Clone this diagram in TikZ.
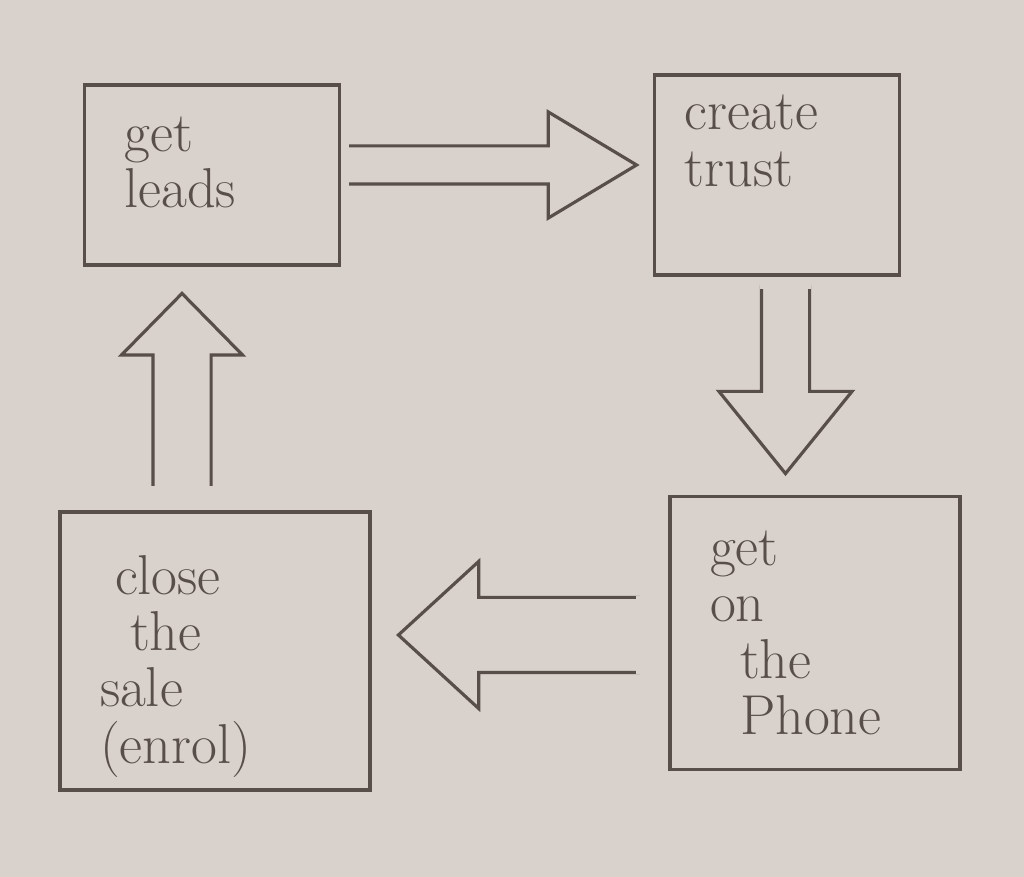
\documentclass[tikz,border=0pt]{standalone}
\usepackage{tikz}
\usetikzlibrary{shapes, arrows, positioning}
\definecolor{paper}{RGB}{216,209,204}
\definecolor{ink}{RGB}{88,78,74}

\begin{document}
\begin{tikzpicture}[line width=0.9pt,draw=ink,text=ink,font=\fontsize{16}{16}\selectfont]
	\tikzset{box/.style={draw=ink,rectangle,align=left,inner ysep=0pt}}
	\tikzset{blockarrow/.style={draw=ink,single arrow,anchor=tail}}
	\tikzset{opentail/.style={draw=paper,line width=2.2pt}}
	\fill[paper] (0,0) rectangle (10.24,8.77);
	\node[box,minimum width=2.55cm,minimum height=1.8cm,inner xsep=0.4cm,text width=1.75cm,text depth=0.82cm] (leads) at (2.12,7.02) {get\\leads};
	\node[box,minimum width=2.45cm,minimum height=2.0cm,inner xsep=0.3cm,text width=1.85cm,text depth=1.25cm] (trust) at (7.77,7.02) {create\\trust};
	\node[box,minimum width=2.9cm,minimum height=2.73cm,inner xsep=0.4cm,text width=2.1cm] (phone) at (8.15,2.44) {get\\on\\\hspace{0.3cm}the\\\hspace{0.3cm}Phone};
	\node[box,minimum width=3.1cm,minimum height=2.78cm,inner xsep=0.4cm,text width=2.3cm,text depth=1.52cm] (sale) at (2.15,2.26) {\hspace{0.15cm}close\\\hspace{0.3cm}the\\sale\\(enrol)};
	% block arrows between the boxes
	\node[blockarrow,inner xsep=0pt,inner ysep=0.175cm,minimum height=2.9cm,single arrow head extend=0.34cm,single arrow tip angle=62] (a1) at (3.45,7.12) {};
	\node[blockarrow,inner ysep=0pt,inner xsep=0.225cm,minimum height=1.87cm,single arrow head extend=0.425cm,single arrow tip angle=78,shape border rotate=270] (a2) at (7.855,5.92) {};
	\node[blockarrow,inner xsep=0pt,inner ysep=0.36cm,minimum height=2.4cm,single arrow head extend=0.36cm,single arrow tip angle=85,shape border rotate=180] (a3) at (6.4,2.42) {};
	\node[blockarrow,inner ysep=0pt,inner xsep=0.275cm,minimum height=1.95cm,single arrow head extend=0.315cm,single arrow tip angle=89,shape border rotate=90] (a4) at (1.82,3.87) {};
	% the tails are left open
	\foreach \a in {a1,a2,a3,a4}
		\draw[opentail] (\a.before tail) -- (\a.after tail);
\end{tikzpicture}
\end{document}
